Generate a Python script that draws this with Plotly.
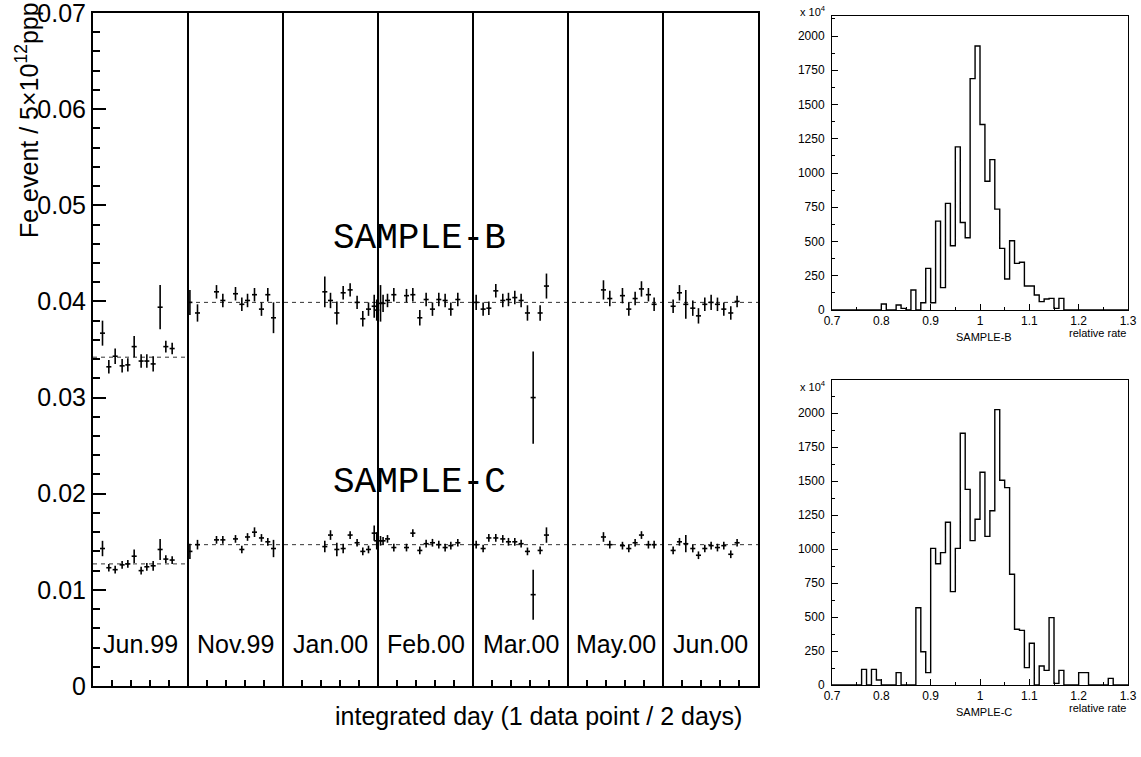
import plotly.graph_objects as go

# ---------------- data ----------------
period_labels = ["Jun.99", "Nov.99", "Jan.00", "Feb.00", "Mar.00", "May.00", "Jun.00"]
period_edges = [15, 30, 45, 60, 75, 90]
period_width = 15

x_day = [1.5, 2.5, 3.5, 4.6, 5.5, 6.5, 7.6, 8.5, 9.5, 10.6, 11.5, 12.5,
         15.3, 16.5, 19.5, 20.5, 22.5, 23.5, 24.4, 25.5, 26.6, 27.6, 28.5,
         36.6, 37.5, 38.5, 39.5, 40.6, 41.7, 42.6, 43.5, 44.4, 44.8,
         45.4, 45.8, 46.5, 47.5, 49.5, 50.5, 51.6, 52.6, 53.6, 54.6, 55.6, 56.5, 57.6,
         60.5, 61.6, 62.5, 63.6, 64.7, 65.6, 66.6, 67.6, 68.6, 69.5, 70.6, 71.6,
         80.6, 81.6, 83.6, 84.6, 85.6, 86.6, 87.7, 88.6,
         91.6, 92.6, 93.6, 94.7, 95.6, 96.6, 97.6, 98.6, 99.6, 100.7, 101.7]

b_rate = [0.0367, 0.0332, 0.0343, 0.0333, 0.0334, 0.0353, 0.0338, 0.0338, 0.0335, 0.0394, 0.0353, 0.0351,
          0.0399, 0.0388, 0.0410, 0.0401, 0.0408, 0.0397, 0.0401, 0.0407, 0.0392, 0.0407, 0.0383,
          0.0410, 0.0401, 0.0388, 0.0409, 0.0412, 0.0399, 0.0382, 0.0392, 0.0395, 0.0391,
          0.0398, 0.0398, 0.0401, 0.0407, 0.0406, 0.0407, 0.0383, 0.0402, 0.0392, 0.0402, 0.0401, 0.0392, 0.0402,
          0.0399, 0.0392, 0.0393, 0.0411, 0.0401, 0.0402, 0.0404, 0.0401, 0.0388, 0.0300, 0.0388, 0.0416,
          0.0412, 0.0403, 0.0406, 0.0392, 0.0403, 0.0413, 0.0407, 0.0397,
          0.0395, 0.0409, 0.0397, 0.0393, 0.0385, 0.0397, 0.0399, 0.0397, 0.0392, 0.0388, 0.0400]
b_err = [0.0013, 0.0007, 0.0008, 0.0007, 0.0007, 0.0011, 0.0007, 0.0007, 0.0008, 0.0023, 0.0006, 0.0006,
         0.0013, 0.0009, 0.0007, 0.0007, 0.0007, 0.0007, 0.0007, 0.0007, 0.0007, 0.0007, 0.0016,
         0.0016, 0.0008, 0.0012, 0.0007, 0.0007, 0.0007, 0.0008, 0.0007, 0.0012, 0.0011,
         0.0019, 0.0009, 0.0007, 0.0007, 0.0007, 0.0007, 0.0008, 0.0007, 0.0007, 0.0007, 0.0007, 0.0007, 0.0007,
         0.0008, 0.0007, 0.0007, 0.0007, 0.0007, 0.0007, 0.0007, 0.0007, 0.0008, 0.0048, 0.0008, 0.0013,
         0.0010, 0.0008, 0.0008, 0.0007, 0.0007, 0.0008, 0.0007, 0.0007,
         0.0007, 0.0008, 0.0015, 0.0008, 0.0008, 0.0007, 0.0008, 0.0007, 0.0007, 0.0007, 0.0006]

c_rate = [0.0143, 0.0123, 0.0121, 0.0126, 0.0127, 0.0135, 0.0120, 0.0124, 0.0125, 0.0142, 0.0132, 0.0131,
          0.0140, 0.0147, 0.0152, 0.0152, 0.0153, 0.0142, 0.0155, 0.0160, 0.0154, 0.0150, 0.0143,
          0.0145, 0.0157, 0.0142, 0.0143, 0.0157, 0.0149, 0.0140, 0.0142, 0.0159, 0.0151,
          0.0151, 0.0151, 0.0153, 0.0144, 0.0144, 0.0159, 0.0141, 0.0148, 0.0149, 0.0147, 0.0144, 0.0146, 0.0149,
          0.0147, 0.0143, 0.0154, 0.0154, 0.0153, 0.0150, 0.0150, 0.0148, 0.0140, 0.0095, 0.0141, 0.0157,
          0.0155, 0.0147, 0.0146, 0.0143, 0.0149, 0.0157, 0.0147, 0.0147,
          0.0141, 0.0150, 0.0148, 0.0143, 0.0136, 0.0143, 0.0146, 0.0144, 0.0146, 0.0137, 0.0149]
c_err = [0.0008, 0.0004, 0.0004, 0.0004, 0.0004, 0.0007, 0.0004, 0.0004, 0.0005, 0.0011, 0.0004, 0.0004,
         0.0008, 0.0005, 0.0004, 0.0004, 0.0004, 0.0004, 0.0004, 0.0005, 0.0004, 0.0004, 0.0009,
         0.0006, 0.0005, 0.0007, 0.0005, 0.0004, 0.0004, 0.0004, 0.0004, 0.0008, 0.0009,
         0.0005, 0.0004, 0.0004, 0.0004, 0.0004, 0.0004, 0.0004, 0.0004, 0.0004, 0.0004, 0.0004, 0.0004, 0.0004,
         0.0004, 0.0004, 0.0004, 0.0004, 0.0004, 0.0004, 0.0004, 0.0004, 0.0004, 0.0026, 0.0004, 0.0008,
         0.0005, 0.0004, 0.0004, 0.0004, 0.0004, 0.0004, 0.0004, 0.0004,
         0.0004, 0.0004, 0.0009, 0.0004, 0.0004, 0.0004, 0.0004, 0.0004, 0.0004, 0.0004, 0.0004]
x_half_width = 0.4

b_mean_jun99 = 0.0342
b_mean = 0.0399
c_mean_jun99 = 0.0127
c_mean = 0.0147

y_ticks = [0, 0.01, 0.02, 0.03, 0.04, 0.05, 0.06, 0.07]
y_tick_text = ["0", "0.01", "0.02", "0.03", "0.04", "0.05", "0.06", "0.07"]

hist_edges = [round(0.70 + 0.01 * k, 2) for k in range(61)]
hist_b = [0, 0, 0, 0, 0, 0, 0, 0, 0, 0,
          44, 0, 0, 36, 12, 0, 146, 0, 53, 304,
          53, 649, 163, 778, 469, 1191, 639, 527, 1689, 1927,
          1354, 940, 1098, 736, 450, 226, 505, 340, 348, 175,
          175, 109, 61, 80, 85, 12, 85, 0, 0, 0,
          0, 0, 0, 0, 0, 0, 0, 0, 0, 0]
hist_c = [0, 0, 0, 0, 0, 0, 115, 0, 115, 37,
          0, 0, 0, 91, 0, 0, 0, 569, 245, 91,
          1006, 893, 974, 1198, 687, 1006, 1853, 1440, 1063, 1220,
          1566, 1094, 1283, 2027, 1507, 1453, 815, 410, 402, 128,
          307, 0, 140, 108, 496, 12, 108, 0, 0, 0,
          91, 91, 0, 0, 0, 0, 49, 0, 0, 0]
hist_x_ticks = [0.7, 0.8, 0.9, 1.0, 1.1, 1.2, 1.3]
hist_x_text = ["0.7", "0.8", "0.9", "1", "1.1", "1.2", "1.3"]
hist_y_ticks = [0, 250, 500, 750, 1000, 1250, 1500, 1750, 2000]

# ---------------- figure ----------------
W, H = 1141, 757
SANS = "Liberation Sans"
MONO = "Liberation Mono"

def px_x(p):
    return p / W

def px_y(p):
    return 1 - p / H

fig = go.Figure()

n_periods = len(period_labels)
x_end = n_periods * period_width
for mj, m in [(b_mean_jun99, b_mean), (c_mean_jun99, c_mean)]:
    fig.add_trace(go.Scatter(x=[0, period_width], y=[mj, mj], mode="lines",
                             line=dict(color="#333333", width=1, dash="4px,4px"),
                             hoverinfo="skip", showlegend=False))
    fig.add_trace(go.Scatter(x=[period_width, x_end], y=[m, m], mode="lines",
                             line=dict(color="#333333", width=1, dash="4px,4px"),
                             hoverinfo="skip", showlegend=False))

for rate, err in [(b_rate, b_err), (c_rate, c_err)]:
    fig.add_trace(go.Scatter(
        x=x_day, y=rate, mode="markers",
        marker=dict(size=1, color="black"),
        error_y=dict(type="data", array=err, width=0, thickness=1.6, color="black"),
        error_x=dict(type="constant", value=x_half_width, width=0, thickness=1.6, color="black"),
        showlegend=False))

for counts, xa, ya in [(hist_b, "x2", "y2"), (hist_c, "x3", "y3")]:
    fig.add_trace(go.Scatter(
        x=hist_edges, y=counts + [counts[-1]], mode="lines", line_shape="hv",
        line=dict(color="black", width=1.4), xaxis=xa, yaxis=ya,
        hoverinfo="skip", showlegend=False))

shapes = []
for e in period_edges:
    shapes.append(dict(type="line", xref="x", yref="y domain", x0=e, x1=e, y0=0, y1=1,
                       line=dict(color="black", width=2)))

annotations = []
for i, lab in enumerate(period_labels):
    annotations.append(dict(x=period_width * i + period_width / 2, y=0.0044, xref="x", yref="y",
                            text=lab, showarrow=False, font=dict(family=SANS, size=25, color="black")))
annotations.append(dict(x=51.5, y=0.0465, xref="x", yref="y", text="SAMPLE-B", showarrow=False,
                        font=dict(family=MONO, size=36, color="black")))
annotations.append(dict(x=51.5, y=0.0212, xref="x", yref="y", text="SAMPLE-C", showarrow=False,
                        font=dict(family=MONO, size=36, color="black")))
annotations.append(dict(x=px_x(27), y=px_y(0), xref="paper", yref="paper",
                        text="Fe event / 5×10<sup>12</sup>ppp", textangle=-90,
                        xanchor="center", yanchor="top", showarrow=False,
                        font=dict(family=SANS, size=25, color="black")))
annotations.append(dict(x=px_x(744), y=px_y(716), xref="paper", yref="paper",
                        text="integrated day (1 data point / 2 days)",
                        xanchor="right", yanchor="middle", showarrow=False,
                        font=dict(family=SANS, size=25, color="black")))

for top, bottom, name in [(0, 310, "SAMPLE-B"), (375, 685, "SAMPLE-C")]:
    annotations.append(dict(x=px_x(798), y=px_y(top + 11), xref="paper", yref="paper",
                            text="x 10<sup>4</sup>", xanchor="left", yanchor="middle", showarrow=False,
                            font=dict(family=SANS, size=11, color="black")))
    annotations.append(dict(x=px_x(984), y=px_y(bottom + 27), xref="paper", yref="paper",
                            text=name, xanchor="center", yanchor="middle", showarrow=False,
                            font=dict(family=SANS, size=11, color="black")))
    annotations.append(dict(x=px_x(1128), y=px_y(bottom + 23), xref="paper", yref="paper",
                            text="relative rate", xanchor="right", yanchor="middle", showarrow=False,
                            font=dict(family=SANS, size=11, color="black")))

main_x = dict(domain=[px_x(93), px_x(758)], range=[0, x_end], showgrid=False, zeroline=False,
              automargin=False,
              showline=True, linecolor="black", linewidth=2, mirror=True,
              ticks="inside", tick0=0, dtick=3, ticklen=6, tickwidth=1.5, tickcolor="black",
              showticklabels=False)
main_y = dict(domain=[px_y(686), px_y(13)], range=[0, 0.0700001], showgrid=False, zeroline=False,
              automargin=False, ticklabeloverflow="allow",
              showline=True, linecolor="black", linewidth=2, mirror=True,
              ticks="inside", tickmode="array", tickvals=y_ticks, ticktext=y_tick_text,
              ticklen=13, tickwidth=1.5, tickcolor="black",
              minor=dict(ticks="inside", tick0=0, dtick=0.002, ticklen=7, tickwidth=1.5, tickcolor="black"),
              tickfont=dict(family=SANS, size=25, color="black"))

def hist_x(dom_anchor):
    return dict(domain=[px_x(832), px_x(1128)], range=[0.7, 1.3000001], anchor=dom_anchor,
                automargin=False, ticklabeloverflow="allow",
                showgrid=False, zeroline=False, showline=True, linecolor="black", linewidth=1,
                mirror=True, ticks="inside", tickmode="array", tickvals=hist_x_ticks,
                ticktext=hist_x_text, ticklen=6, tickcolor="black",
                minor=dict(ticks="inside", tick0=0.7, dtick=0.05, ticklen=3, tickcolor="black"),
                tickfont=dict(family=SANS, size=12, color="black"))

def hist_y(dom, top, dom_anchor):
    return dict(domain=dom, range=[0, top], anchor=dom_anchor,
                automargin=False, ticklabeloverflow="allow",
                showgrid=False, zeroline=False, showline=True, linecolor="black", linewidth=1,
                mirror=True, ticks="inside", tickmode="array", tickvals=hist_y_ticks,
                ticklen=6, tickcolor="black", ticklabelstandoff=4,
                minor=dict(ticks="inside", tick0=0, dtick=125, ticklen=3, tickcolor="black"),
                tickfont=dict(family=SANS, size=12, color="black"))

fig.update_layout(
    width=W, height=H, autosize=False,
    margin=dict(l=0, r=0, t=0, b=0),
    paper_bgcolor="white", plot_bgcolor="white",
    showlegend=False,
    xaxis=main_x, yaxis=main_y,
    xaxis2=hist_x("y2"), yaxis2=hist_y([px_y(310), px_y(16)], 2146, "x2"),
    xaxis3=hist_x("y3"), yaxis3=hist_y([px_y(685), px_y(380)], 2245, "x3"),
    shapes=shapes, annotations=annotations,
)

fig.write_html("out.html", config={"displayModeBar": False},
               post_script="document.body.style.margin='0';document.body.style.padding='0';")
